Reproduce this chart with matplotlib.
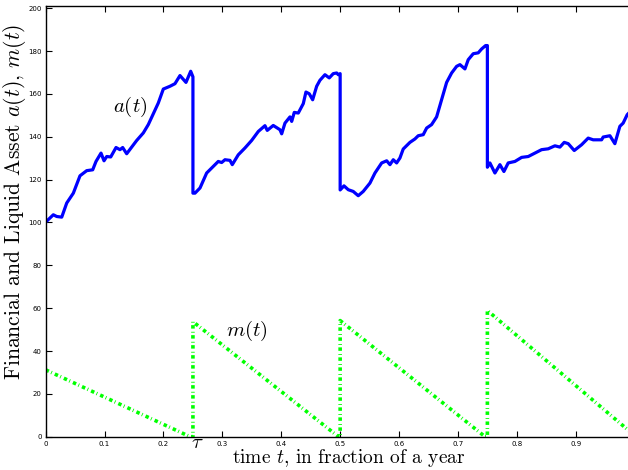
import matplotlib
matplotlib.use('Agg')
import matplotlib.pyplot as plt

plt.rcParams['mathtext.fontset'] = 'cm'
plt.rcParams['lines.scale_dashes'] = False

# a(t) : liquid asset
t_a = [0.0, 0.0129, 0.0187, 0.0272, 0.0357, 0.0469, 0.0582, 0.0696, 0.0798, 0.0854,
       0.0939, 0.099, 0.1036, 0.1104, 0.1194, 0.1261, 0.1307, 0.1375, 0.146, 0.1545,
       0.1657, 0.1742, 0.1827, 0.1912, 0.1997, 0.211, 0.2195, 0.228, 0.2382, 0.2462,
       0.25, 0.25, 0.2535, 0.262, 0.2733, 0.2874, 0.293, 0.2988, 0.3044, 0.3129,
       0.3168, 0.327, 0.3384, 0.3497, 0.361, 0.3723, 0.3762, 0.3864, 0.3978, 0.4007,
       0.4063, 0.4148, 0.4177, 0.4221, 0.4289, 0.4374, 0.4419, 0.4475, 0.4533, 0.4601,
       0.4657, 0.4742, 0.4815, 0.4883, 0.4941, 0.4968, 0.5, 0.5, 0.5065, 0.5138,
       0.5222, 0.5307, 0.5392, 0.5506, 0.5591, 0.5705, 0.579, 0.5846, 0.5902, 0.5959,
       0.6015, 0.6071, 0.6185, 0.627, 0.6326, 0.6411, 0.6469, 0.6553, 0.6638, 0.6723,
       0.6808, 0.6893, 0.6978, 0.7034, 0.7119, 0.7175, 0.726, 0.7345, 0.7402, 0.747,
       0.75, 0.75, 0.7543, 0.7628, 0.7713, 0.7781, 0.7854, 0.7968, 0.8082, 0.8194,
       0.8307, 0.8421, 0.8533, 0.8647, 0.8732, 0.8805, 0.8873, 0.8975, 0.91, 0.9212,
       0.9297, 0.944, 0.9467, 0.9581, 0.9665, 0.975, 0.9806, 0.9874, 0.995]
a_vals = [100.2, 103.6, 102.8, 102.5, 109.1, 113.7, 121.8, 124.2, 124.6, 128.5,
          132.4, 128.8, 130.8, 130.6, 135.0, 134.0, 135.0, 132.1, 135.2, 138.3,
          141.8, 145.7, 150.7, 155.8, 162.3, 163.6, 164.8, 168.6, 165.4, 170.6,
          168.0, 113.7, 113.7, 116.1, 123.1, 127.0, 128.5, 128.0, 129.3, 129.0,
          127.0, 131.6, 134.8, 138.3, 142.5, 145.2, 143.0, 145.3, 143.3, 141.4,
          146.4, 149.3, 147.2, 151.4, 151.1, 155.5, 160.9, 160.1, 157.3, 163.6,
          166.4, 169.0, 167.5, 169.5, 169.8, 169.0, 169.5, 115.2, 117.1, 115.3,
          114.5, 112.5, 114.5, 118.4, 123.1, 127.8, 128.8, 127.0, 129.3, 127.8,
          130.1, 134.3, 137.4, 139.0, 140.5, 141.0, 144.1, 145.7, 149.3, 157.3,
          165.4, 169.8, 172.9, 173.7, 171.7, 176.0, 178.8, 179.2, 181.0, 182.6,
          182.6, 125.8, 127.8, 123.1, 127.0, 123.8, 127.8, 128.5, 130.4, 130.8,
          132.4, 134.0, 134.4, 135.8, 135.2, 137.4, 136.8, 133.6, 136.3, 139.4,
          138.6, 138.6, 139.9, 140.5, 136.8, 144.9, 146.4, 150.3, 152.5]

# m(t) : sawtooth, jumps at each quarter
t_m = [0.0, 0.245, 0.25, 0.25, 0.497, 0.5, 0.5, 0.746, 0.75, 0.75, 0.995]
m_vals = [31.2, 0.0, 0.0, 53.7, 0.0, 0.0, 54.2, 0.0, 0.0, 58.9, 1.7]

xticks = [0, 0.1, 0.2, 0.3, 0.4, 0.5, 0.6, 0.7, 0.8, 0.9]
yticks = list(range(0, 201, 20))

fig = plt.figure(figsize=(6.28, 4.70), dpi=100)
ax = fig.add_axes([0.0728, 0.0709, 0.933, 0.916])

ax.plot(t_a, a_vals, color='#0000ff', lw=2.3, solid_joinstyle='round')
ax.plot(t_m, m_vals, color='#00ff00', lw=2.6, linestyle=(0, (2.5, 1.8, 0.6, 2.3)))

ax.set_xlim(0, 0.995)
ax.set_ylim(0, 201)
ax.set_xticks(xticks)
ax.set_xticklabels([str(x) for x in xticks])
ax.set_yticks(yticks)
ax.tick_params(direction='in', top=True, right=False, labelsize=5, length=4,
               width=0.8, pad=3)
for s in ax.spines.values():
    s.set_linewidth(1.0)
ax.spines['right'].set_visible(False)

ax.text(0.143, 154, r'$a(t)$', fontsize=15, ha='center', va='center')
ax.text(0.342, 49.3, r'$m(t)$', fontsize=15, ha='center', va='center')
ax.text(0.257, -2.5, r'$\tau$', fontsize=15, ha='center', va='center', clip_on=False)

fig.text(349 / 628, 1 - 458 / 470, r'time $t$, in fraction of a year', fontsize=14,
         family='cmr10', ha='center', va='center')
fig.text(15 / 628, 1 - 202 / 470, r'Financial and Liquid Asset $a(t)$, $m(t)$',
         fontsize=15.6, family='cmr10', ha='center', va='center', rotation=90)

fig.savefig('out.png', dpi=100)
